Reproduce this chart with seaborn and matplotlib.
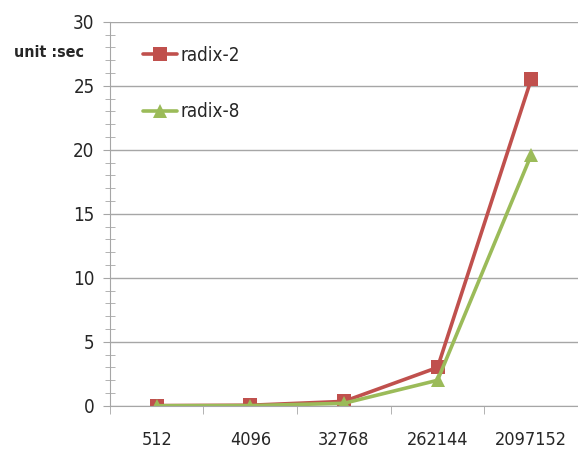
# Radix-2 vs radix-8 run time chart
import pandas as pd
import seaborn as sns
import matplotlib.pyplot as plt
from matplotlib.ticker import MultipleLocator, FixedLocator

# Data
sizes = ["512", "4096", "32768", "262144", "2097152"]
radix2 = [0.02, 0.05, 0.35, 3.0, 25.5]
radix8 = [0.01, 0.02, 0.2, 2.0, 19.6]
series_names = ["radix-2", "radix-8"]

df = pd.DataFrame({
    "size": sizes * 2,
    "time": radix2 + radix8,
    "series": [series_names[0]] * len(sizes) + [series_names[1]] * len(sizes),
})

sns.set_style("white")
plt.rcParams["font.family"] = ["DejaVu Sans"]
plt.rcParams["font.stretch"] = "condensed"

fig = plt.figure(figsize=(5.78, 4.54), dpi=100)
ax = fig.add_axes([0.19, 0.106, 0.81, 0.846])

sns.lineplot(data=df, x="size", y="time", hue="series", style="series",
             palette=["#C0504D", "#9BBB59"], markers=["s", "^"], dashes=False,
             sort=False, linewidth=2.6, markersize=10, markeredgewidth=0,
             ax=ax)

# y axis
ax.set_ylim(0, 30)
ax.yaxis.set_major_locator(MultipleLocator(5))
ax.yaxis.set_minor_locator(MultipleLocator(1))
ax.grid(axis="y", which="major", color="#A6A6A6", linewidth=1)
ax.tick_params(axis="y", which="major", left=True, length=5, color="#A6A6A6",
               labelsize=13.5, pad=6)
ax.tick_params(axis="y", which="minor", left=True, length=7, direction="inout",
               color="#A6A6A6")

# x axis: labels between boundary ticks
ax.set_xlim(-0.5, 4.5)
ax.xaxis.set_minor_locator(FixedLocator([i - 0.5 for i in range(6)]))
ax.tick_params(axis="x", which="major", length=0, labelsize=13, pad=18)
ax.tick_params(axis="x", which="minor", bottom=True, length=6, color="#A6A6A6")

for side in ["top", "right"]:
    ax.spines[side].set_visible(False)
for side in ["left", "bottom"]:
    ax.spines[side].set_color("#A6A6A6")

ax.set_xlabel("")
ax.set_ylabel("")

handles, labels = ax.get_legend_handles_labels()
ax.legend(handles, labels, loc="upper left", bbox_to_anchor=(0.035, 0.982),
          frameon=False, fontsize=13.5, labelspacing=2.0, handlelength=1.8,
          handletextpad=0.2)

fig.text(0.025, 0.875, "unit :sec", fontsize=11.5, fontweight="bold")

fig.savefig("out.png", dpi=100)
